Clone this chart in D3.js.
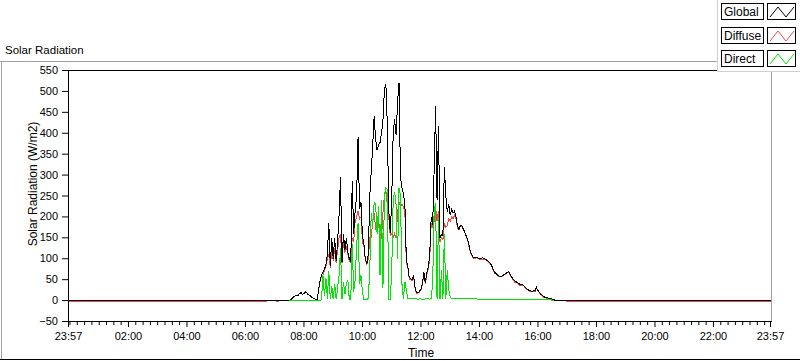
<!DOCTYPE html>
<html>
<head>
<meta charset="utf-8">
<script src="https://cdn.jsdelivr.net/npm/d3@7"></script>
<style>
body { margin: 0; background: #fff; }
svg { display: block; font-family: "Liberation Sans", Arial, sans-serif; }
.axis text { font-size: 11px; fill: #000; }
.axis line { stroke: #000; }
</style>
</head>
<body>
<div id="chart"></div>
<script>
// sample times (first one is the previous evening)
var times = [
  "23:57","06:42","06:45","07:03","07:05","07:08","07:10","07:30","07:33","07:36",
  "07:39","07:42","07:45","07:48","07:51","07:54","07:57","08:00","08:03","08:06",
  "08:09","08:12","08:15","08:18","08:21","08:24","08:27",
  "08:30","08:33","08:36","08:39","08:42","08:45","08:48","08:51","08:54","08:57",
  "09:00","09:03","09:06","09:09","09:12","09:15","09:18","09:21","09:24","09:27",
  "09:30","09:33","09:36","09:39","09:42","09:45","09:48","09:51","09:54","09:57",
  "10:00","10:03","10:06","10:09","10:12","10:15","10:18","10:21","10:24","10:27",
  "10:30","10:33","10:36","10:39","10:42","10:45","10:48","10:51","10:54","10:57",
  "11:00","11:03","11:06","11:09","11:12","11:15","11:18","11:21","11:24","11:27",
  "11:30","11:33","11:36","11:39","11:42","11:45","11:48","11:51","11:54","11:57",
  "12:00","12:03","12:06","12:09","12:12","12:15","12:18","12:21","12:24","12:27",
  "12:30","12:33","12:36","12:39","12:42","12:45","12:48","12:51","12:54","12:57",
  "13:00","13:03","13:06","13:09","13:12","13:15","13:18","13:21",
  "13:24","13:30","13:36","13:42","13:48","13:54","14:00","14:06","14:12","14:18",
  "14:24","14:30","14:36","14:42","14:48","14:54","15:00","15:06","15:12","15:18",
  "15:24","15:30","15:36","15:42","15:48","15:54","15:57","16:00","16:06","16:12",
  "16:18","16:24","16:30","16:36","16:42","16:48","16:54",
  "16:57","17:00","23:57"
];

// W/m2
var globalRad = [
  0,0,0,0,0,0,0,0,2,6,
  9,11,13,12,17,19,15,17,21,18,
  14,12,9,7,5,3,2,
  25,48,62,68,75,85,110,186,82,150,
  100,150,95,140,205,296,92,158,122,150,
  115,100,92,285,160,215,250,392,220,235,
  155,135,98,88,110,250,310,370,440,385,
  360,372,378,400,430,505,518,420,215,162,
  240,400,433,395,475,521,295,270,255,232,
  97,82,55,52,50,60,30,19,19,22,
  28,42,68,42,66,80,110,200,180,310,
  465,240,418,150,158,155,320,250,212,230,
  205,218,210,214,200,178,170,180,
  178,163,145,115,102,103,100,102,99,94,
  86,70,62,57,60,65,69,56,47,43,
  38,37,29,24,22,24,31,24,15,9,
  7,5,3,0.5,0,0,0,
  0,0,0
];

var diffuseRad = [
  -3,-3,0,0,-3,-3,0,0,2,6,
  9,11,13,12,17,19,15,17,21,18,
  14,12,9,7,5,3,2,
  25,46,60,60,72,80,100,110,78,120,
  95,125,90,120,150,160,90,140,115,130,
  110,95,90,150,140,190,200,215,195,200,
  140,130,96,86,100,150,150,190,210,170,
  190,200,145,150,210,250,262,230,200,155,
  160,150,160,150,210,235,225,230,225,210,
  90,80,52,50,48,55,28,18,18,20,
  26,40,62,40,62,75,100,185,175,190,
  225,190,215,140,150,145,185,175,180,195,
  190,200,195,205,195,174,168,178,
  177,162,142,112,101,102,99,99,98,91,
  85,67,61,56,59,64,68,55,44,42,
  35,36,28,23,21,21,30,23,14,8,
  6,4,1,0,0,0,0,
  0,-3,-3
];

var directRad = [
  null,null,null,null,null,null,null,0,0,0,
  0,0,0,0,0,0,0,0,0,0,
  0,0,0,0,0,0,0,
  0,0,2,60,10,55,5,70,3,35,
  3,40,3,30,60,125,3,45,15,40,
  50,3,3,135,20,50,130,185,40,60,
  20,3,3,3,5,75,210,180,235,230,
  160,225,60,240,30,250,270,265,3,2,
  70,240,260,230,100,270,250,40,3,45,
  25,4,4,4,5,5,4,4,3,4,
  4,3,3,4,4,4,3,5,40,215,
  234,3,200,3,73,3,160,3,73,25,
  8,4,4,4,4,4,4,4,
  4,4,4,4,4,4,3,3,3,3,
  3,3,3,3,3,3,3,3,3,3,
  3,3,3,3,3,3,3,3,3,3,
  2,2,1,null,null,null,null,
  null,null,null
];

var seriesNames = ["Global", "Diffuse", "Direct"];
var seriesColors = ["#000000", "#f04848", "#00e600"];
var yTicks = [-50, 0, 50, 100, 150, 200, 250, 300, 350, 400, 450, 500, 550];
var xMajor = [-3, 120, 240, 360, 480, 600, 720, 840, 960, 1080, 1200, 1320, 1437];

// minutes since midnight, first sample belongs to the day before
function toMinutes(s, i) {
  var p = s.split(":");
  var m = +p[0] * 60 + +p[1];
  if (i === 0 && m > 720) m -= 1440;
  return m;
}

function fmtTime(m) {
  var v = (m + 1440) % 1440;
  return d3.format("02")(Math.floor(v / 60)) + ":" + d3.format("02")(v % 60);
}

var svgWidth = 800;
var svgHeight = 361;
var plot = { left: 68, right: 771, top: 70, bottom: 321 };

var svg = d3.select("#chart")
  .append("svg")
  .attr("width", svgWidth)
  .attr("height", svgHeight);

// outer frame of the chart control
svg.append("line")
  .attr("x1", 0).attr("x2", 717).attr("y1", 61.5).attr("y2", 61.5)
  .attr("stroke", "#a0a0a0");
svg.append("line")
  .attr("x1", 1.5).attr("x2", 1.5).attr("y1", 61.5).attr("y2", 360)
  .attr("stroke", "#a0a0a0");
svg.append("line")
  .attr("x1", 0).attr("x2", 800).attr("y1", 359.5).attr("y2", 359.5)
  .attr("stroke", "#000");

svg.append("text")
  .attr("x", 5)
  .attr("y", 54)
  .attr("font-size", "11.5px")
  .text("Solar Radiation");

var x = d3.scaleLinear().domain([-3, 1437]).range([68, 770]);
var y = d3.scaleLinear().domain([-50, 550]).range([321, 70]);

// plot area borders
svg.append("line")
  .attr("x1", plot.right + 0.5).attr("x2", plot.right + 0.5)
  .attr("y1", plot.top).attr("y2", plot.bottom + 0.5)
  .attr("stroke", "#a0a0a0");
svg.append("line")
  .attr("x1", plot.left).attr("x2", 717).attr("y1", plot.top + 0.5).attr("y2", plot.top + 0.5)
  .attr("stroke", "#000");
svg.append("line")
  .attr("x1", plot.left + 0.5).attr("x2", plot.left + 0.5)
  .attr("y1", plot.top).attr("y2", plot.bottom + 1)
  .attr("stroke", "#000");
svg.append("line")
  .attr("x1", plot.left).attr("x2", plot.right + 1)
  .attr("y1", plot.bottom + 0.5).attr("y2", plot.bottom + 0.5)
  .attr("stroke", "#000");

// y axis
var yAxis = svg.append("g")
  .attr("class", "axis")
  .attr("transform", "translate(" + plot.left + ",0)")
  .call(d3.axisLeft(y).tickValues(yTicks).tickSize(6).tickPadding(4).tickSizeOuter(0));
yAxis.select(".domain").remove();

// x axis, minor then major ticks
var xMinor = d3.range(0, 1440, 15).filter(function(m) { return xMajor.indexOf(m) < 0; });
var xMinorAxis = svg.append("g")
  .attr("class", "axis")
  .attr("transform", "translate(0," + plot.bottom + ")")
  .call(d3.axisBottom(x).tickValues(xMinor).tickSize(4).tickFormat(""));
xMinorAxis.select(".domain").remove();

var xAxis = svg.append("g")
  .attr("class", "axis")
  .attr("transform", "translate(0," + plot.bottom + ")")
  .call(d3.axisBottom(x).tickValues(xMajor).tickSize(6).tickPadding(5).tickFormat(fmtTime));
xAxis.select(".domain").remove();

svg.append("text")
  .attr("x", 421)
  .attr("y", 357)
  .attr("text-anchor", "middle")
  .attr("font-size", "12px")
  .text("Time");

svg.append("text")
  .attr("transform", "translate(37,184) rotate(-90)")
  .attr("text-anchor", "middle")
  .attr("font-size", "12px")
  .text("Solar Radiation (W/m2)");

// build the series
var tMin = times.map(toMinutes);
var seriesValues = [globalRad, diffuseRad, directRad];
var series = seriesNames.map(function(name, k) {
  return {
    name: name,
    color: seriesColors[k],
    values: tMin.map(function(t, i) { return { t: t, v: seriesValues[k][i] }; })
  };
});

var line = d3.line()
  .defined(function(d) { return d.v != null; })
  .x(function(d) { return x(d.t); })
  .y(function(d) { return y(d.v); });

var lineGroup = svg.append("g")
  .attr("transform", "translate(0.5,0.5)");

// diffuse under global, direct on top
[1, 0, 2].forEach(function(k) {
  lineGroup.append("path")
    .datum(series[k].values)
    .attr("d", line)
    .attr("fill", "none")
    .attr("stroke", series[k].color)
    .attr("stroke-width", 1)
    .attr("shape-rendering", "crispEdges");
});

// legend panel
svg.append("rect")
  .attr("x", 717.5).attr("y", -1)
  .attr("width", 90).attr("height", 72.5)
  .attr("fill", "#fff")
  .attr("stroke", "#cfcfcf");

var legend = svg.selectAll(".legend")
  .data(series)
  .enter()
  .append("g")
  .attr("class", "legend")
  .attr("transform", function(d, i) { return "translate(0," + Math.round(3 + i * 23.5) + ")"; });

legend.append("rect")
  .attr("x", 721.5).attr("y", 0.5)
  .attr("width", 42).attr("height", 16)
  .attr("fill", "#fff")
  .attr("stroke", "#000");

legend.append("text")
  .attr("x", 724)
  .attr("y", 13)
  .attr("font-size", "12px")
  .text(function(d) { return d.name; });

legend.append("rect")
  .attr("x", 767.5).attr("y", 0.5)
  .attr("width", 28).attr("height", 16)
  .attr("fill", "#fff")
  .attr("stroke", "#000");

var zig = [[770, 14], [778, 4], [786, 14], [794, 4]];
legend.append("path")
  .attr("d", d3.line()(zig))
  .attr("fill", "none")
  .attr("stroke", function(d) { return d.color; })
  .attr("stroke-width", 1);
</script>
</body>
</html>
